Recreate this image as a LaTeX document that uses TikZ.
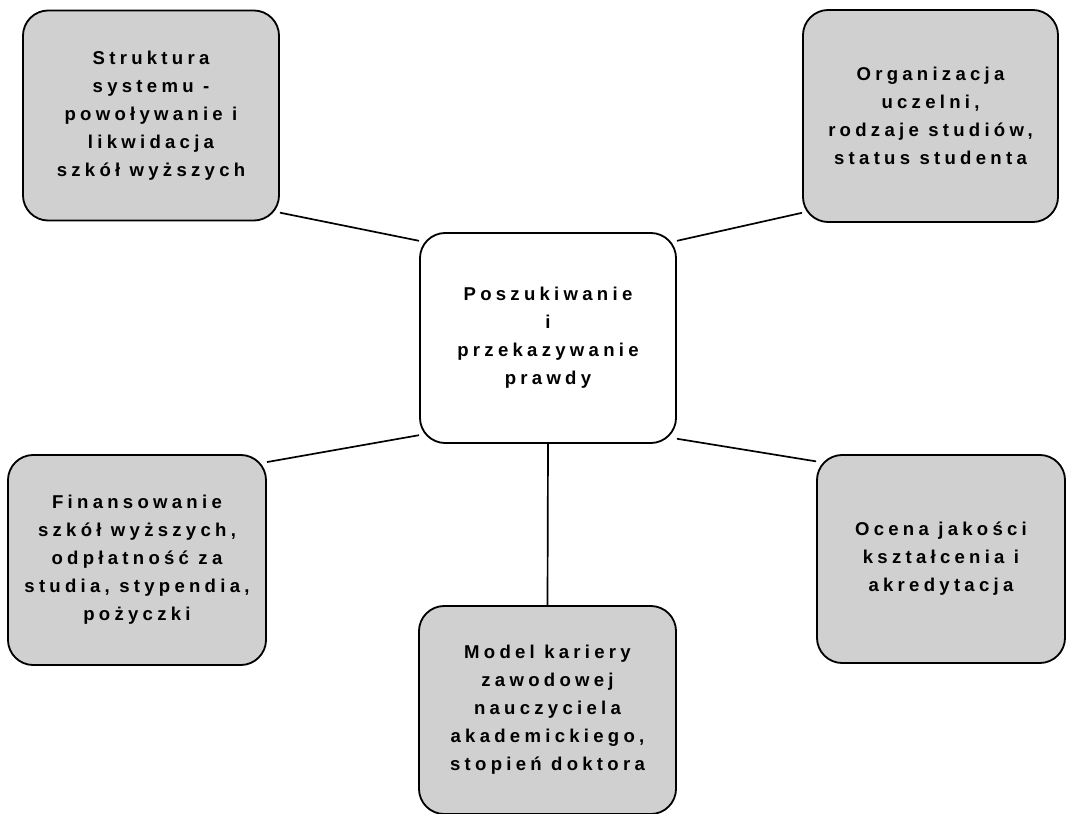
\documentclass[tikz,border=0pt]{standalone}
\usepackage{fontspec}
\usepackage{tikz}
\usetikzlibrary{backgrounds}
\newfontfamily\boxfont[LetterSpace=23,UprightFont={Liberation Sans Bold}]{Liberation Sans}
\definecolor{pwgrey}{HTML}{D0D0D0}
\definecolor{pwline}{HTML}{000000}
\tikzset{
  topic/.style={draw=pwline,fill=pwgrey,rounded corners=18pt,align=center,
                line width=1.3pt,minimum width=6.4cm,minimum height=5.25cm,
                inner sep=0pt,font=\boxfont\fontsize{13.2}{19.9}\selectfont},
  hub/.style={topic,fill=white},
  link/.style={line width=1.2pt,pwline},
}

\begin{document}
\begin{tikzpicture}[x=0.025cm,y=-0.025cm]
    \useasboundingbox (0,0) rectangle (1066,814);
    \node[hub] (c) at (548,338) {Poszukiwanie\\i\\przekazywanie\\prawdy};
    \node[topic] (tl) at (151,115.5) {Struktura\\systemu -\\powoływanie i\\likwidacja\\szkół wyższych};
    \node[topic,minimum width=6.375cm,minimum height=5.3cm] (tr) at (930.5,116) {Organizacja\\uczelni,\\rodzaje studiów,\\status studenta};
    \node[topic,minimum width=6.45cm] (bl) at (137,560) {Finansowanie\\szkół wyższych,\\odpłatność za\\studia, stypendia,\\pożyczki};
    \node[topic,minimum width=6.2cm,minimum height=5.2cm] (br) at (941,559) {Ocena jakości\\kształcenia i\\akredytacja};
    \node[topic,minimum width=6.425cm,minimum height=5.2cm] (bm) at (547.5,710) {Model kariery\\zawodowej\\nauczyciela\\akademickiego,\\stopień doktora};
    \begin{scope}[on background layer]
    \draw[link](tl.-37.6)--(c.143.1);
    \draw[link](tr.217.8)--(c.37.1);
    \draw[link](bl.37.3)--(c.217.5);
    \draw[link](br.142.7)--(c.-38.2);
    \draw[link](c.south)--(bm.north);
    \end{scope}
  \end{tikzpicture}
\end{document}
